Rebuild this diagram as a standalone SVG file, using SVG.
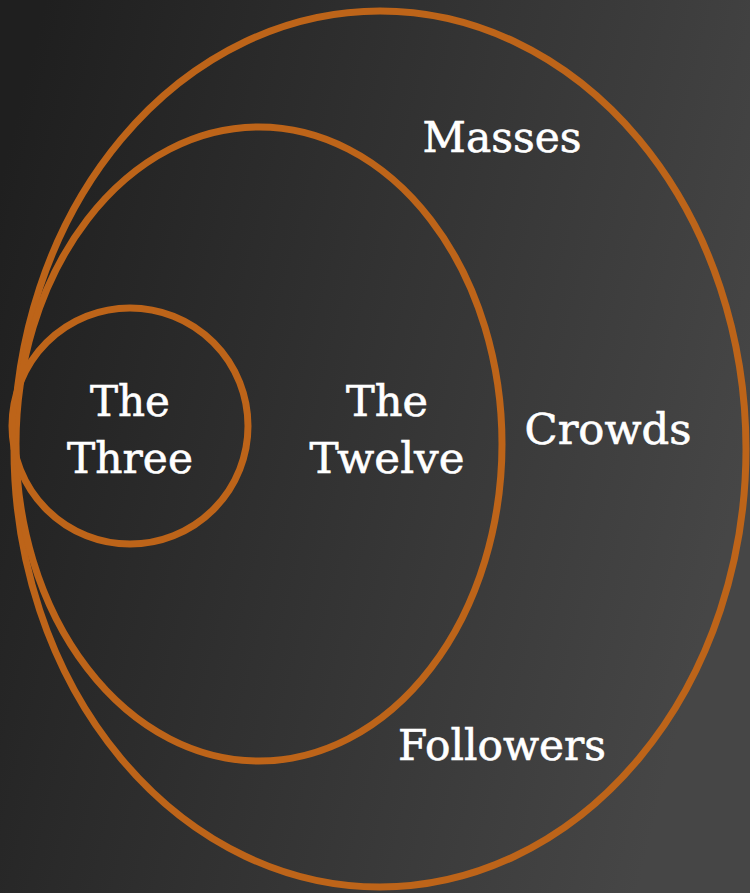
<svg xmlns="http://www.w3.org/2000/svg" width="750" height="893" viewBox="0 0 750 893">
<defs>
<linearGradient id="bg" x1="0" y1="0.2" x2="1" y2="0.5">
<stop offset="0" stop-color="#1f1f1f"/>
<stop offset="1" stop-color="#464646"/>
</linearGradient>
<style>
.ring{fill:none;stroke:#bd6419;stroke-width:7}
.lbl{fill:#ffffff;stroke:#ffffff;stroke-width:0.6;font-family:"DejaVu Serif","Liberation Serif",serif;font-size:42px;text-anchor:middle}
</style>
</defs>
<rect width="750" height="893" fill="url(#bg)"/>
<g id="followers">
<ellipse class="ring" cx="380" cy="449" rx="366" ry="438"/>
<text class="lbl" x="502" y="760" textLength="208" lengthAdjust="spacingAndGlyphs">Followers</text>
<text class="lbl" x="502" y="152" textLength="159" lengthAdjust="spacingAndGlyphs">Masses</text>
<text class="lbl" x="608" y="444" textLength="167" lengthAdjust="spacingAndGlyphs">Crowds</text>
</g>
<g id="twelve">
<ellipse class="ring" cx="259" cy="444" rx="243" ry="317"/>
<text class="lbl" x="387" y="416" textLength="82" lengthAdjust="spacingAndGlyphs">The</text>
<text class="lbl" x="387" y="473" textLength="155" lengthAdjust="spacingAndGlyphs">Twelve</text>
</g>
<g id="three">
<ellipse class="ring" cx="130" cy="426" rx="118" ry="118"/>
<text class="lbl" x="130" y="416" textLength="80" lengthAdjust="spacingAndGlyphs">The</text>
<text class="lbl" x="130" y="473" textLength="126" lengthAdjust="spacingAndGlyphs">Three</text>
</g>
<g id="connectors"/>
</svg>
